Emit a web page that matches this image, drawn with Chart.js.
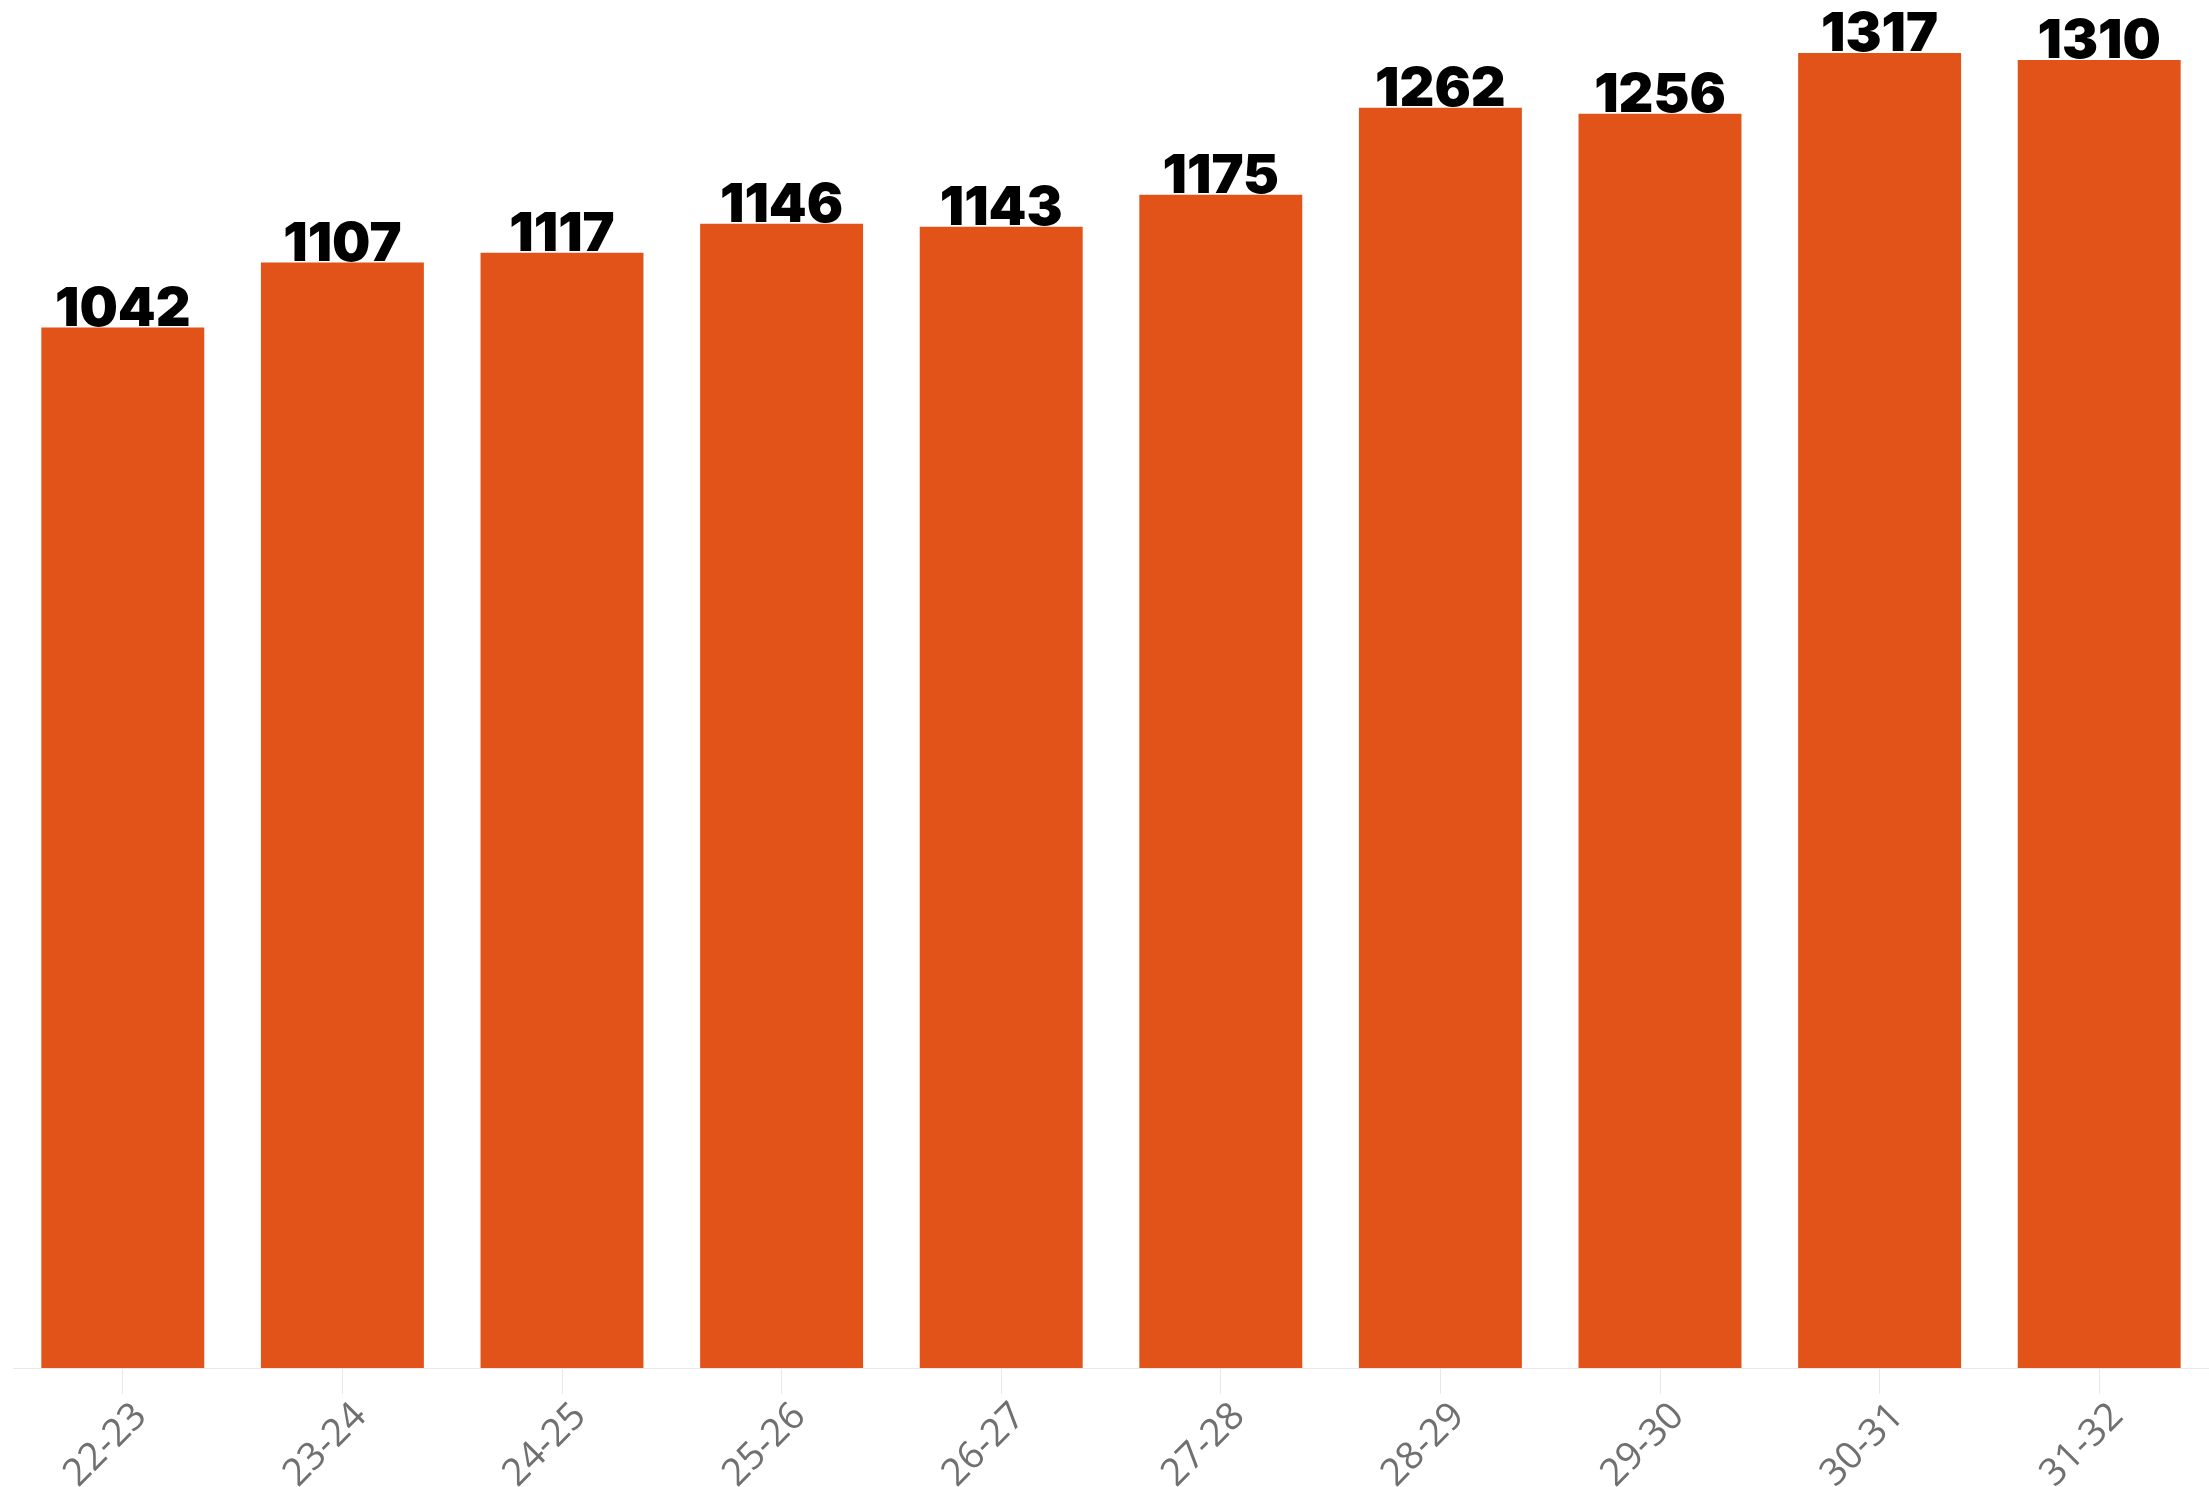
<!DOCTYPE html>
<html>
<head>
<meta charset="utf-8">
<script src="https://cdn.jsdelivr.net/npm/chart.js@4.4.1/dist/chart.umd.min.js"></script>
<style>
  html, body { margin: 0; padding: 0; background: #fff; }
  #wrap { width: 2209px; height: 1487px; }
</style>
</head>
<body>
<div id="wrap"><canvas id="barChart"></canvas></div>
<script>
// Data
//==============================
var years = ["22-23", "23-24", "24-25", "25-26", "26-27", "27-28", "28-29", "29-30", "30-31", "31-32"];
var counts = [1042, 1107, 1117, 1146, 1143, 1175, 1262, 1256, 1317, 1310];

// Draws the value above every bar (no datalabels plugin offline)
var valueLabels = {
  id: "valueLabels",
  afterDatasetsDraw: function (chart) {
    var ctx = chart.ctx;
    var meta = chart.getDatasetMeta(0);
    ctx.save();
    ctx.font = "900 54px Inter";
    ctx.fillStyle = "#000";
    ctx.textAlign = "center";
    ctx.textBaseline = "alphabetic";
    meta.data.forEach(function (bar, i) {
      ctx.fillText(counts[i], bar.x, bar.y - 2);
    });
    ctx.restore();
  }
};

// Bar Chart
// ===========================
var ctx = document.getElementById("barChart");
var barChart = new Chart(ctx, {
  type: "bar",
  data: {
    labels: years,
    datasets: [{
      data: counts,
      backgroundColor: "#E2531A",
      borderWidth: 0,
      categoryPercentage: 1,
      barPercentage: 0.742
    }]
  },
  options: {
    responsive: true,
    maintainAspectRatio: false,
    animation: false,
    layout: { padding: { left: 13, right: 0, top: 0, bottom: 0 } },
    plugins: {
      legend: { display: false },
      tooltip: { enabled: false }
    },
    scales: {
      x: {
        grid: {
          offset: false,
          drawOnChartArea: false,
          color: "#e8e8e8",
          tickLength: 26
        },
        border: { color: "#e8e8e8" },
        ticks: {
          color: "#707070",
          font: { family: "Open Sans", size: 38 },
          minRotation: 45,
          maxRotation: 45,
          padding: 0,
          labelOffset: 18
        },
        afterFit: function (scale) {
          scale.height = 119;
        }
      },
      y: {
        display: false,
        min: 0,
        max: 1370
      }
    }
  },
  plugins: [valueLabels]
});
</script>
</body>
</html>
